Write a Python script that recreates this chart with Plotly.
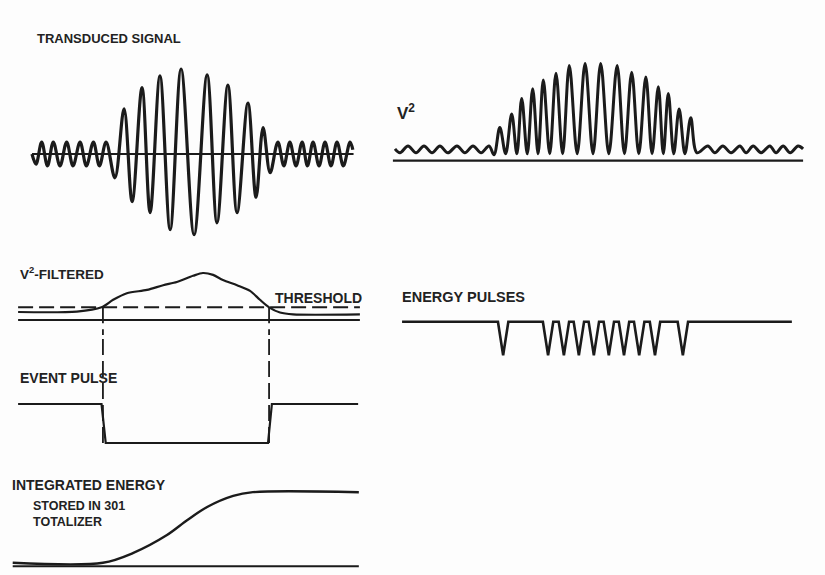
import plotly.graph_objects as go

W, H = 825, 575

# ---------------- DATA ----------------
# Left column time axis: 0-100 (arbitrary units); right column time axis: 0-100.

# Transduced signal: successive extrema (time, normalised amplitude)
transduced_t = [6.25, 7.4, 9.0, 10.65, 12.3, 14.2, 16.1, 17.9, 19.9, 21.7, 23.7, 25.4, 27.3,
                29.8, 32.4, 34.7, 37.5, 39.8, 42.6, 45.5, 48.6, 52.3, 56.0, 58.8, 61.9, 64.5,
                67.6, 69.9, 71.9, 73.9,
                76.1, 77.8, 79.5, 81.25, 83.0, 84.5, 86.1, 87.8, 89.5, 91.2, 92.9, 94.7, 96.6, 97.4]
transduced_v = [0.0, -0.12, 0.14, -0.14, 0.14, -0.14, 0.14, -0.14, 0.14, -0.14, 0.14, -0.14, 0.14,
                -0.28, 0.53, -0.56, 0.78, -0.69, 0.92, -0.89, 1.0, -0.95, 0.93, -0.81, 0.81, -0.69,
                0.60, -0.51, 0.31, -0.22,
                0.14, -0.14, 0.14, -0.14, 0.14, -0.14, 0.14, -0.14, 0.14, -0.14, 0.14, -0.14, 0.14, 0.05]
transduced_span = [6.25, 97.6]

# V^2 : extrema (time, value)
v2_t = [1.2, 2.4, 4.33, 6.25, 8.17, 10.1, 12.0, 13.9, 16.1, 18.0, 19.95, 21.9, 23.8, 25.0,
        26.4, 27.8, 29.25, 30.5, 31.66, 33.0, 34.3, 35.6, 36.85, 38.4, 39.9, 41.5, 43.1, 45.0,
        46.9, 48.8, 50.65, 52.6, 54.6, 56.35, 58.1, 59.8, 61.5, 63.0, 64.5, 65.7, 66.9, 68.2,
        69.5, 70.9, 72.3, 73.8,
        76.4, 78.1, 80.0, 82.0, 84.1, 85.6, 87.3, 89.2, 91.3, 92.8, 94.5, 96.2, 98.1, 99.3]
v2_v = [0.12, 0.08, 0.15, 0.08, 0.15, 0.08, 0.15, 0.08, 0.15, 0.08, 0.15, 0.08, 0.15, 0.06,
        0.34, 0.07, 0.48, 0.07, 0.64, 0.07, 0.74, 0.07, 0.83, 0.07, 0.90, 0.07, 0.98, 0.07,
        1.0, 0.07, 1.0, 0.07, 0.98, 0.07, 0.91, 0.07, 0.86, 0.07, 0.76, 0.07, 0.69, 0.07,
        0.53, 0.07, 0.44, 0.08,
        0.15, 0.08, 0.15, 0.08, 0.15, 0.08, 0.15, 0.08, 0.15, 0.08, 0.15, 0.08, 0.15, 0.12]
v2_span = [0.7, 99.3]

# V^2 filtered envelope and threshold
filtered_t = [2.3, 19.0, 26.0, 29.3, 33.2, 38.9, 43.5, 47.4, 52.0, 54.8, 57.7, 60.5, 64.5,
              68.2, 71.0, 73.6, 76.7, 80.4, 99.4]
filtered_v = [0.17, 0.18, 0.27, 0.43, 0.57, 0.64, 0.74, 0.81, 0.94, 1.0, 0.96, 0.85, 0.74,
              0.62, 0.43, 0.27, 0.16, 0.12, 0.12]
filtered_span = [2.3, 99.4]
threshold = 0.27
crossing_times = [26.4, 73.6]

# Event pulse
event_t = [2.3, 26.0, 27.2, 73.3, 74.4, 98.9]
event_v = [1, 1, 0, 0, 1, 1]

# Integrated energy
integrated_t = [0.77, 26.4, 34.9, 44.6, 50.3, 56.0, 63.4, 69.0, 99.1]
integrated_v = [0.045, 0.045, 0.176, 0.42, 0.62, 0.80, 0.95, 1.0, 1.0]
integrated_span = [0.77, 99.1]

# Energy pulses (right column time of each pulse)
pulse_times = [27.2, 38.0, 41.8, 45.4, 49.0, 52.6, 56.25, 59.9, 63.7, 70.4]
pulse_span = [2.9, 96.6]
pulse_depth = -1.0

# ---------------- FIGURE ----------------
INK = "#1b1b1b"
fig = go.Figure()

LEFT = (10, 362)     # px
RIGHT = (390, 806)   # px

# panel name -> (column px, (top px, bottom px), y-range)
panels = {
    "A": (LEFT, (55, 250), [-1.13, 1.165]),
    "B": (RIGHT, (50, 175), [-0.149, 1.139]),
    "C": (LEFT, (255, 335), [-0.319, 1.383]),
    "D": (LEFT, (335, 460), [-0.436, 2.77]),
    "E": (LEFT, (470, 575), [-0.12, 1.30]),
    "F": (RIGHT, (290, 380), [-1.74, 0.946]),
}
axis_ids = {}
for i, (name, (col, (top, bot), yr)) in enumerate(panels.items(), start=1):
    sfx = "" if i == 1 else str(i)
    axis_ids[name] = ("x" + sfx, "y" + sfx)
    fig.layout["xaxis" + sfx] = dict(domain=[col[0] / W, col[1] / W], range=[0, 100],
                                    visible=False, fixedrange=True, anchor="y" + sfx)
    fig.layout["yaxis" + sfx] = dict(domain=[1 - bot / H, 1 - top / H], range=yr,
                                    visible=False, fixedrange=True, anchor="x" + sfx)


def add(panel, x, y, width=2, shape="linear", dash=None, smoothing=1.0):
    xa, ya = axis_ids[panel]
    line = dict(color=INK, width=width, shape=shape)
    if shape == "spline":
        line["smoothing"] = smoothing
    if dash:
        line["dash"] = dash
    fig.add_trace(go.Scatter(x=x, y=y, mode="lines", line=line, xaxis=xa, yaxis=ya,
                             hoverinfo="skip", showlegend=False))


# A: transduced signal
add("A", transduced_span, [0, 0], width=2)
add("A", transduced_t, transduced_v, width=3.2, shape="spline")

# B: V^2
add("B", v2_span, [0, 0], width=2.2)
add("B", v2_t, v2_v, width=3, shape="spline")

# C: filtered + threshold
add("C", filtered_span, [0, 0], width=2)
add("C", filtered_span, [threshold, threshold], width=2, dash="15px,6px")
add("C", filtered_t, filtered_v, width=2.2, shape="spline", smoothing=0.8)
for ct in crossing_times:
    add("C", [ct, ct], [threshold, -10], width=1.8, dash="16px,6px")
    add("D", [ct, ct], [10, 0], width=1.8, dash="16px,6px")

# D: event pulse
add("D", event_t, event_v, width=2.2)

# E: integrated energy
add("E", integrated_span, [0, 0], width=2)
add("E", integrated_t, integrated_v, width=2.4, shape="spline", smoothing=0.9)

# F: energy pulses
hw = 1.25
px_, py_ = [pulse_span[0]], [0]
for pt in pulse_times:
    px_ += [pt - hw, pt, pt + hw]
    py_ += [0, pulse_depth, 0]
px_.append(pulse_span[1])
py_.append(0)
add("F", px_, py_, width=2.6)

# Labels (position in px of left edge / vertical centre)
labels = [
    ("TRANSDUCED SIGNAL", 35, 38, 13),
    ("V<sup>2</sup>", 395, 112, 17),
    ("V<sup>2</sup>-FILTERED", 18, 273, 13.5),
    ("THRESHOLD", 273, 298, 14),
    ("ENERGY PULSES", 400, 297, 14.5),
    ("EVENT PULSE", 18, 378, 14),
    ("INTEGRATED ENERGY", 10, 485, 14),
    ("STORED IN 301<br>TOTALIZER", 31, 514, 12.5),
]
for text, lx, ly, fs in labels:
    fig.add_annotation(text="<b>" + text.replace("<br>", "</b><br><b>") + "</b>",
                       x=lx / W, y=1 - ly / H, xref="paper",
                       yref="paper", xanchor="left", yanchor="middle", align="left",
                       showarrow=False,
                       font=dict(family="Liberation Sans, Arial, sans-serif", size=fs, color="#222"))

fig.update_layout(width=W, height=H, margin=dict(l=0, r=0, t=0, b=0),
                  paper_bgcolor="#fdfdfd", plot_bgcolor="rgba(0,0,0,0)",
                  showlegend=False, hovermode=False)

fig.write_html("out.html", config={"displayModeBar": False, "staticPlot": True})
